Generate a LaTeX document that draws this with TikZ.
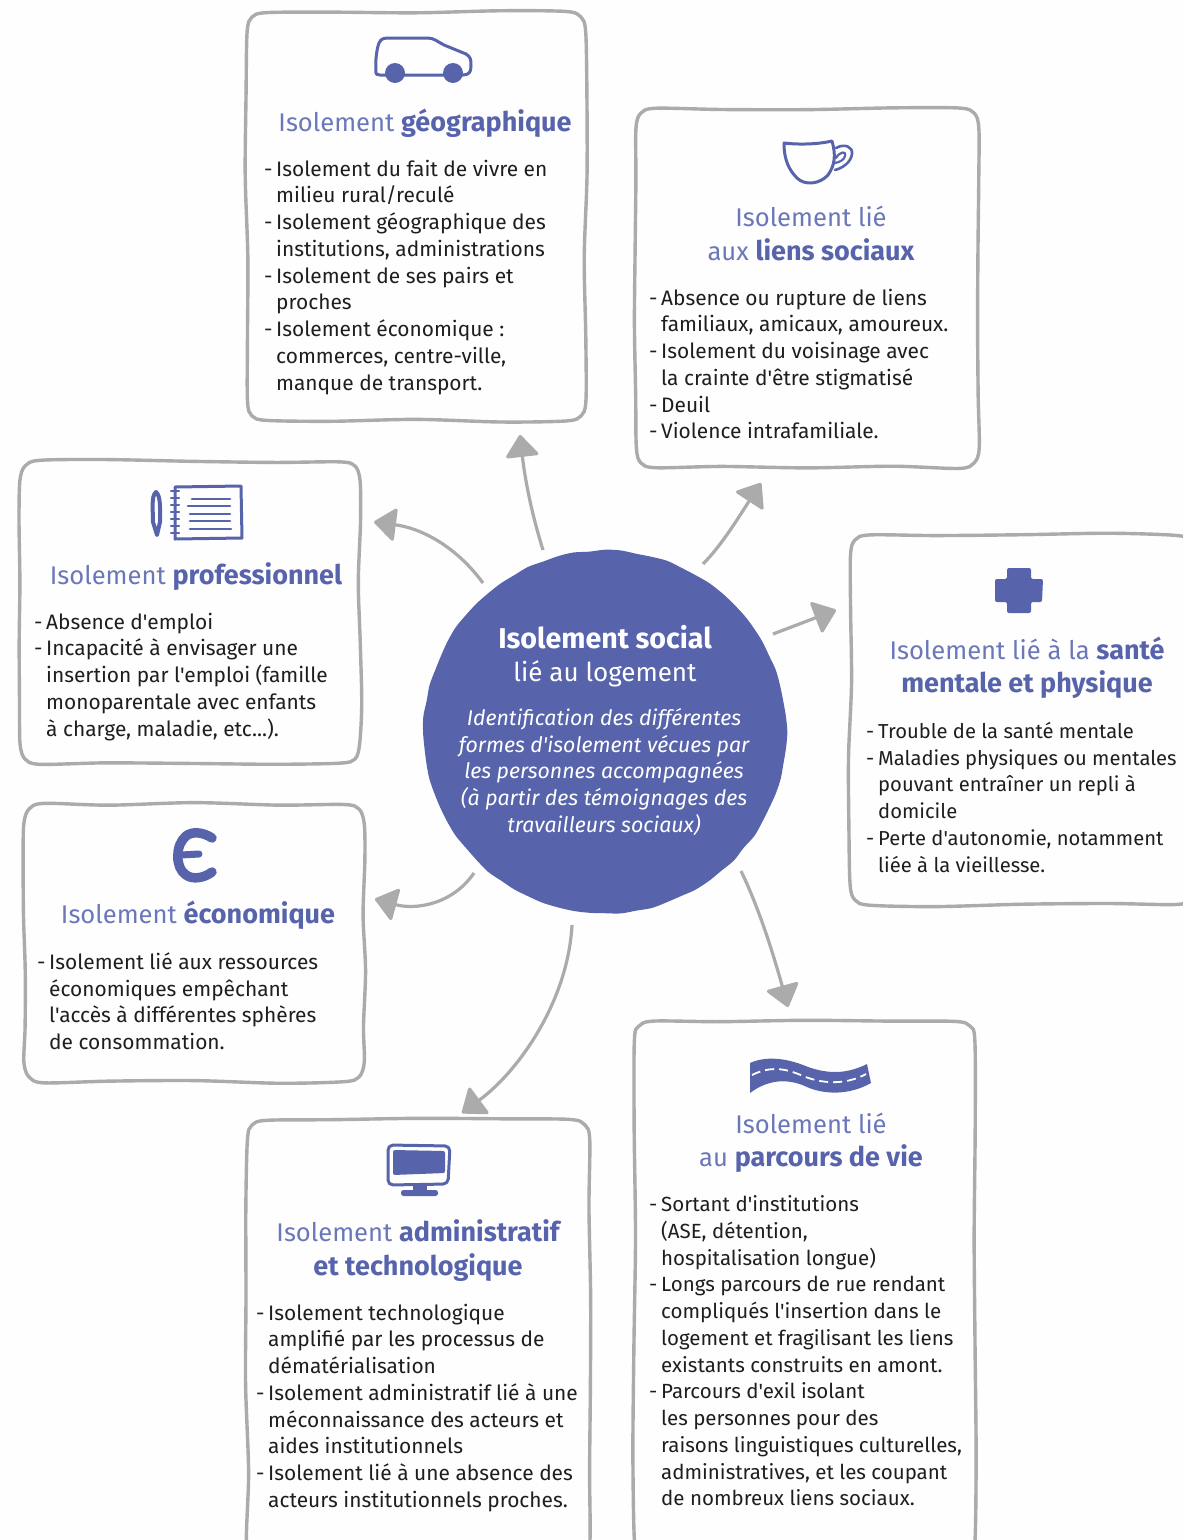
\documentclass[tikz,border=0pt]{standalone}
\usepackage{fontspec}
\setmainfont{Fira Sans}[Ligatures=TeXOff]
\usetikzlibrary{arrows.meta,calc}
\definecolor{blu}{HTML}{5764AC}
\definecolor{blul}{HTML}{6A77B8}
\definecolor{gry}{HTML}{ABABAB}
\definecolor{ink}{HTML}{1E1E1E}
\newcommand{\dd}{\makebox[12pt][l]{-}}
\newcommand{\ii}{\hspace*{12pt}}
\newcommand{\reg}[1]{\textcolor{blul}{\fontsize{25.6}{33.3}\selectfont #1}}
\newcommand{\bld}[1]{\textcolor{blu}{\fontsize{27}{33.3}\selectfont\bfseries #1}}
\tikzset{
  wline/.style={draw=gry,line width=3.4pt,line join=round},
  wnode/.style={inner sep=0pt,anchor=north west},
  titlenode/.style={inner sep=0pt,align=center,text=blu,font=\fontsize{26}{33.3}\selectfont},
  bodynode/.style={inner sep=0pt,anchor=north west,align=left,text=ink,font=\fontsize{20.9}{26.75}\selectfont},
  arrowgray/.style={draw=gry,line width=3.2pt,-{Triangle[length=23pt,width=35pt,round,fill=gry]}},
  iconline/.style={draw=blu,line width=3pt,line join=round,line cap=round},
}
% wobbling box: name, x1, y1, x2, y2
\newcommand{\wb}[5]{%
  \node[wnode,minimum width=#4pt-#2pt,minimum height=#5pt-#3pt] (#1) at (#2,#3) {};
  \draw[wline] plot[smooth cycle,tension=.5] coordinates {
    ({#2+20},{#3+rand*1})
    ({#2*.75+#4*.25},{#3+rand*1.8})
    ({#2*.5+#4*.5},{#3+rand*1.8})
    ({#2*.25+#4*.75},{#3+rand*1.8})
    ({#4-20},{#3+rand*1})
    ({#4-5},{#3+5})
    ({#4+rand*.6},{#3+20})
    ({#4+rand*1.8},{#3*.8+#5*.2})
    ({#4+rand*1.8},{#3*.6+#5*.4})
    ({#4+rand*1.8},{#3*.4+#5*.6})
    ({#4+rand*1.8},{#3*.2+#5*.8})
    ({#4+rand*.6},{#5-20})
    ({#4-5},{#5-5})
    ({#4-20},{#5+rand*1})
    ({#2*.25+#4*.75},{#5+rand*1.8})
    ({#2*.5+#4*.5},{#5+rand*1.8})
    ({#2*.75+#4*.25},{#5+rand*1.8})
    ({#2+20},{#5+rand*1})
    ({#2+5},{#5-5})
    ({#2+rand*.6},{#5-20})
    ({#2+rand*1.8},{#3*.2+#5*.8})
    ({#2+rand*1.8},{#3*.4+#5*.6})
    ({#2+rand*1.8},{#3*.6+#5*.4})
    ({#2+rand*1.8},{#3*.8+#5*.2})
    ({#2+rand*.6},{#3+20})
    ({#2+5},{#3+5})
  };}
\begin{document}
\begin{tikzpicture}[x=1pt,y=-1pt]
\path[use as bounding box,clip] (0,0) rectangle (1183,1540);
\fill[white!99!gray] (0,0) rectangle (1183,1540);
\pgfmathsetseed{23}
% boxes
\wb{geo}{247}{12}{586}{421}
\wb{liens}{636}{108}{979}{468}
\wb{sante}{850}{535}{1195}{905}
\wb{parc}{634}{1021}{975}{1560}
\wb{admin}{247}{1120}{590}{1560}
\wb{eco}{24}{804}{364}{1082}
\wb{pro}{20}{461}{360}{764}
% central disc
\node[circle,minimum size=362pt,inner sep=0pt] (hub) at (605,732) {};
\fill[blu] plot[smooth cycle,tension=.5,samples=72,domain=0:355] ({605+(181.5+rand*.9)*cos(\x)},{732+(181.5+rand*.9)*sin(\x)});
\node[inner sep=0pt,text=white,align=center,font=\fontsize{26}{33.3}\selectfont] (hubt) at (605,656) {{\fontsize{28.6}{33.3}\selectfont\bfseries Isolement social}\\lié au logement};
\node[inner sep=0pt,text=white,align=center,font=\fontsize{21.3}{26.6}\selectfont\itshape] (hubs) at (604,772) {Identification des différentes\\formes d'isolement vécues par\\les personnes accompagnées\\(à partir des témoignages des\\travailleurs sociaux)};
% titles
\node[titlenode] (tgeo) at (425,123) {\reg{Isolement }\bld{géographique}};
\node[titlenode] (tliens) at (811,233.5) {\reg{Isolement lié}\\\reg{aux }\bld{liens sociaux}};
\node[titlenode] (tsante) at (1027,668) {\reg{Isolement lié à la }\bld{santé}\\\bld{mentale et physique}};
\node[titlenode] (tpro) at (196,577) {\reg{Isolement }\bld{professionnel}};
\node[titlenode] (teco) at (198,915) {\reg{Isolement }\bld{économique}};
\node[titlenode] (tadmin) at (418,1250.5) {\reg{Isolement }\bld{administratif}\\\bld{et technologique}};
\node[titlenode] (tparc) at (811,1143) {\reg{Isolement lié}\\\reg{au }\bld{parcours de vie}};
% bodies
\node[bodynode] (bgeo) at (264,159.5) {\dd Isolement du fait de vivre en\\\ii milieu rural/reculé\\\dd Isolement géographique des\\\ii institutions, administrations\\\dd Isolement de ses pairs et\\\ii proches\\\dd Isolement économique :\\\ii commerces, centre-ville,\\\ii manque de transport.};
\node[bodynode] (bliens) at (649,288.5) {\dd Absence ou rupture de liens\\\ii familiaux, amicaux, amoureux.\\\dd Isolement du voisinage avec\\\ii la crainte d'être stigmatisé\\\dd Deuil\\\dd Violence intrafamiliale.};
\node[bodynode,font=\fontsize{20.2}{26.75}\selectfont] (bsante) at (866,722) {\dd Trouble de la santé mentale\\\dd Maladies physiques ou mentales\\\ii pouvant entraîner un repli à\\\ii domicile\\\dd Perte d'autonomie, notamment\\\ii liée à la vieillesse.};
\node[bodynode] (bpro) at (34,612.5) {\dd Absence d'emploi\\\dd Incapacité à envisager une\\\ii insertion par l'emploi (famille\\\ii monoparentale avec enfants\\\ii à charge, maladie, etc...).};
\node[bodynode] (beco) at (37,952.5) {\dd Isolement lié aux ressources\\\ii économiques empêchant\\\ii l'accès à différentes sphères\\\ii de consommation.};
\node[bodynode] (badmin) at (256,1303.5) {\dd Isolement technologique\\\ii amplifié par les processus de\\\ii dématérialisation\\\dd Isolement administratif lié à une\\\ii méconnaissance des acteurs et\\\ii aides institutionnels\\\dd Isolement lié à une absence des\\\ii acteurs institutionnels proches.};
\node[bodynode,font=\fontsize{20.5}{26.75}\selectfont] (bparc) at (649,1195.5) {\dd Sortant d'institutions\\\ii (ASE, détention,\\\ii hospitalisation longue)\\\dd Longs parcours de rue rendant\\\ii compliqués l'insertion dans le\\\ii logement et fragilisant les liens\\\ii existants construits en amont.\\\dd Parcours d'exil isolant\\\ii les personnes pour des\\\ii raisons linguistiques culturelles,\\\ii administratives, et les coupant\\\ii de nombreux liens sociaux.};
% arrows
\coordinate (a1s) at (543,550); \coordinate (a1e) at (520,435);
\coordinate (a2s) at (703,564); \coordinate (a2e) at (761,483);
\coordinate (a3s) at (773,634); \coordinate (a3e) at (836,610);
\coordinate (a4s) at (741,871); \coordinate (a4e) at (788,1007);
\coordinate (a5s) at (572,925); \coordinate (a5e) at (462,1113);
\coordinate (a6s) at (474,873); \coordinate (a6e) at (375,899);
\coordinate (a7s) at (483,583); \coordinate (a7e) at (374,522);
\draw[arrowgray] (a1s) .. controls (532,515) and (525,480) .. (a1e);
\draw[arrowgray] (a2s) .. controls (722,545) and (740,515) .. (a2e);
\draw[arrowgray] (a3s) -- (a3e);
\draw[arrowgray] (a4s) .. controls (760,910) and (775,960) .. (a4e);
\draw[arrowgray] (a5s) .. controls (568,1000) and (520,1070) .. (a5e);
\draw[arrowgray] (a6s) .. controls (452,905) and (415,910) .. (a6e);
\draw[arrowgray] (a7s) .. controls (455,545) and (420,528) .. (a7e);
% car
\draw[iconline] (376,73) .. controls (375,60) and (377,48) .. (379,43) .. controls (381,38) and (385,38) .. (390,38) -- (428,38) .. controls (434,38) and (438,42) .. (444,45) -- (466,54) .. controls (471,57) and (471,60) .. (471,66) .. controls (471,72) and (469,75) .. (463,75) -- (380,75) .. controls (377,75) and (376,74) .. (376,73) -- cycle;
\fill[blu] (395,73) circle (10pt) (453,73) circle (10pt);
% cup
\draw[iconline] (784,143) .. controls (800,145) and (820,144) .. (832,141) .. controls (836,155) and (835,165) .. (828,175) .. controls (820,184) and (805,186) .. (797,178) .. controls (789,170) and (784,160) .. (784,143) -- cycle;
\draw[iconline,line width=2.6pt] (836,148) .. controls (845,143) and (853,147) .. (852,154) .. controls (851,162) and (843,168) .. (835,170);
\draw[iconline,line width=2.2pt] (836,158) .. controls (840,151) and (847,151) .. (845,156) .. controls (844,160) and (840,162) .. (835,163);
% notebook
\draw[iconline] (175,487) -- (241,486) -- (242,538) -- (175,539) -- cycle;
\foreach \yy in {491,498,505,512,519,526,533} \draw[iconline,line width=2.2pt] (171,\yy) -- (179,\yy);
\foreach \yy/\xa/\xb in {499/192/230,506/188/230,514/190/230,521/190/230,529/190/231} \draw[iconline,line width=2.6pt] (\xa,\yy) -- (\xb,\yy);
\draw[iconline,line width=4pt] (156,492) .. controls (151,496) and (153,510) .. (153,522) -- (157,535) -- (160,522) .. controls (160,510) and (161,496) .. (156,492) -- cycle;
% plus
\fill[blu,rounded corners=2pt] (1007,568) -- (1031,568) -- (1031,579) -- (1043,579) -- (1042,602) -- (1031,602) -- (1031,613) -- (1007,613) -- (1007,602) -- (995,602) -- (995,579) -- (1007,579) -- cycle;
% euro sign
\draw[iconline,line width=9.5pt] (212,838) .. controls (203,832) and (192,831) .. (186,836) .. controls (175,845) and (175,868) .. (186,875) .. controls (193,880) and (204,878) .. (212,872);
\draw[iconline,line width=7pt] (181,855) -- (199,854);
% monitor
\draw[iconline,rounded corners=5pt] (388,1145) -- (450,1146) -- (448,1184) -- (388,1185) -- cycle;
\fill[blu,rounded corners=2pt] (393,1150) -- (445,1151) -- (445,1173) -- (393,1175) -- cycle;
\fill[blu] (413,1185) rectangle (427,1192);
\fill[blu,rounded corners=2.5pt] (401,1190) rectangle (438,1196);
% road
\fill[blu] (750,1063) .. controls (765,1056) and (785,1058) .. (803,1065) .. controls (825,1074) and (845,1075) .. (867,1064) -- (871,1083) .. controls (850,1095) and (825,1095) .. (807,1087) .. controls (790,1079) and (770,1078) .. (750,1093) -- cycle;
\draw[white,line width=1.8pt,dash pattern=on 9pt off 5pt] (752,1075) .. controls (770,1066) and (785,1068) .. (803,1076) .. controls (825,1085) and (848,1084) .. (866,1074);
\end{tikzpicture}
\end{document}
